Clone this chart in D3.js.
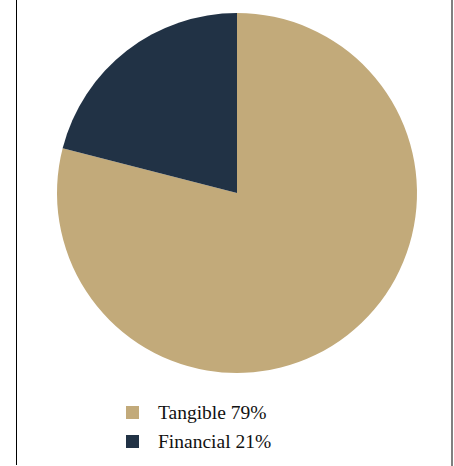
<!DOCTYPE html>
<html>
<head>
<meta charset="utf-8">
<script src="https://cdn.jsdelivr.net/npm/d3@7"></script>
<style>
  body { margin: 0; background: #fff; }
</style>
</head>
<body>
<script>
var width = 454,
    height = 466;

var categories = ["Tangible", "Financial"];
var shares = [79, 21];
var colors = ["#c2aa7a", "#213245"];

var svg = d3.select("body").append("svg")
    .attr("width", width)
    .attr("height", height);

// frame lines
svg.append("line")
    .attr("x1", 16.5).attr("x2", 16.5)
    .attr("y1", 0).attr("y2", 465)
    .attr("stroke", "#000").attr("stroke-width", 1);
svg.append("line")
    .attr("x1", 452).attr("x2", 452)
    .attr("y1", 0).attr("y2", height)
    .attr("stroke", "#808080").attr("stroke-width", 2);

var color = d3.scaleOrdinal().domain(categories).range(colors);

var pie = d3.pie().sort(null).value(function(d, i) { return shares[i]; });
var arc = d3.arc().innerRadius(0).outerRadius(180);

var g = svg.append("g").attr("transform", "translate(237,193)");
g.selectAll("path")
    .data(pie(categories))
    .enter().append("path")
    .attr("d", arc)
    .attr("fill", function(d) { return color(d.data); });

// legend
var legend = svg.append("g").attr("transform", "translate(126,406)");
var item = legend.selectAll("g")
    .data(categories)
    .enter().append("g")
    .attr("transform", function(d, i) { return "translate(0," + (i * 29) + ")"; });
item.append("rect")
    .attr("width", 13).attr("height", 13)
    .attr("fill", function(d) { return color(d); });
item.append("text")
    .attr("x", 32).attr("y", 13)
    .style("font-family", "'Liberation Serif', serif")
    .style("font-size", "19.5px")
    .attr("fill", "#111")
    .text(function(d, i) { return d + " " + shares[i] + "%"; });
</script>
</body>
</html>
